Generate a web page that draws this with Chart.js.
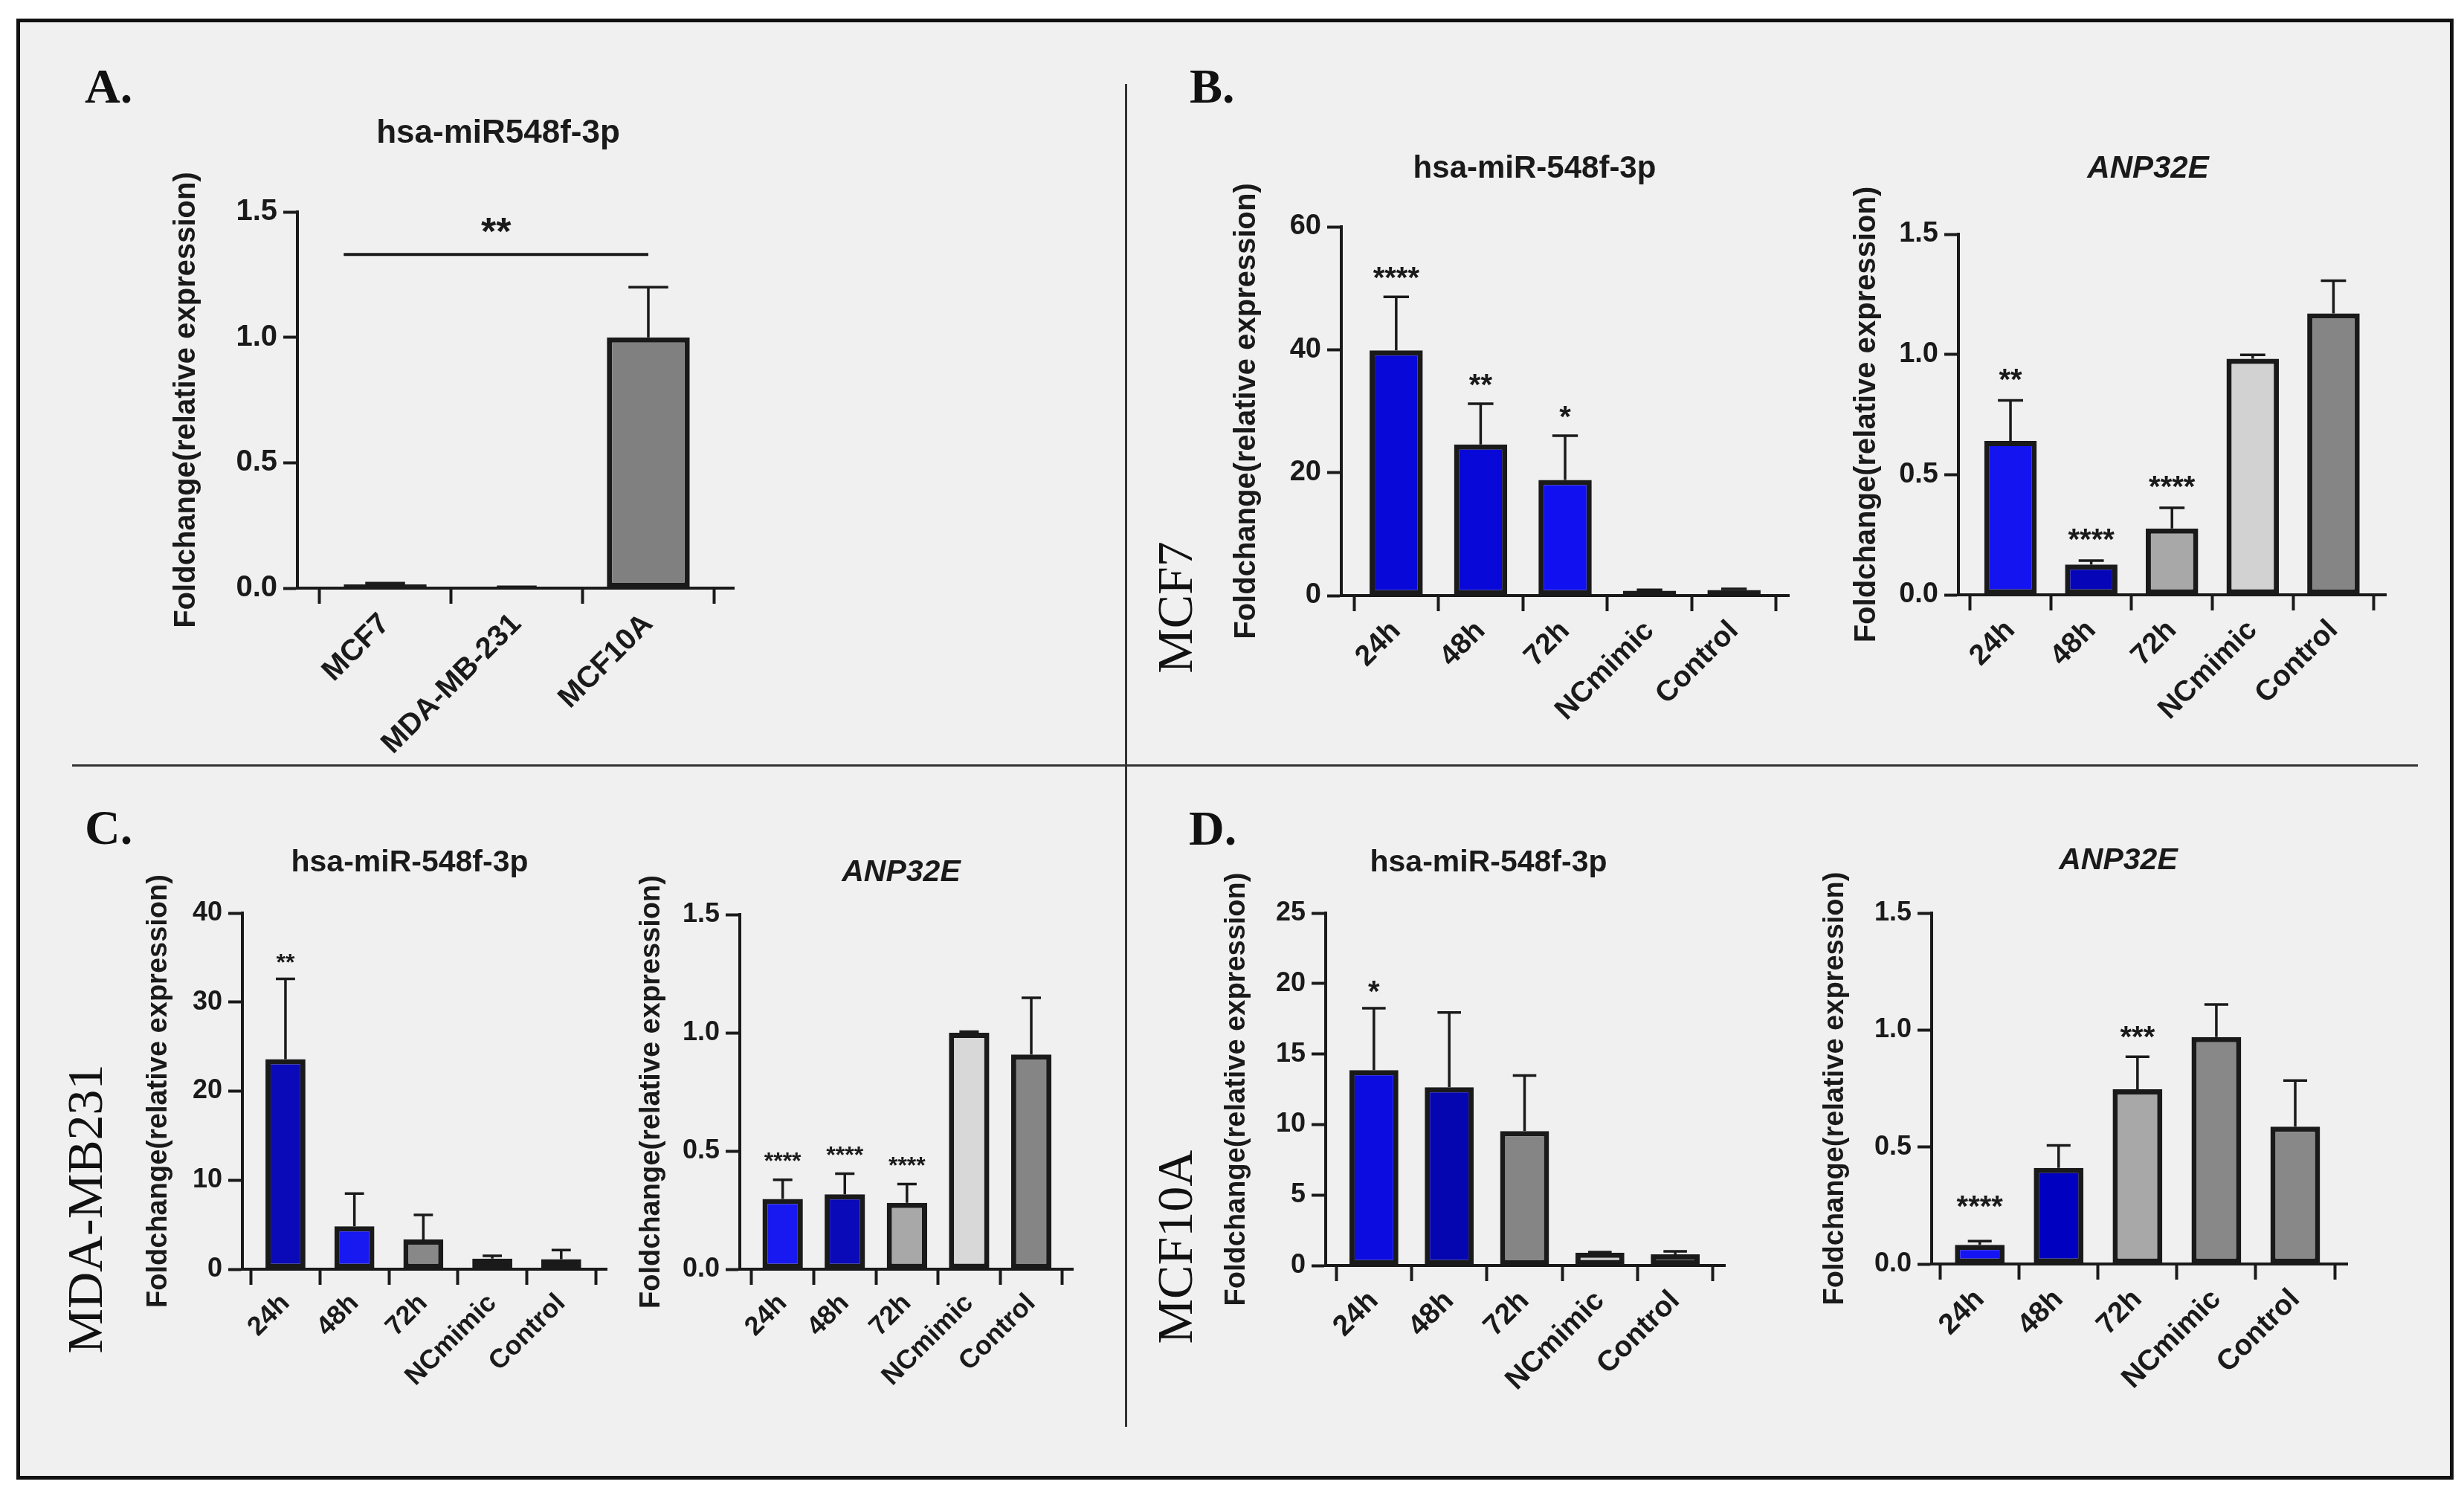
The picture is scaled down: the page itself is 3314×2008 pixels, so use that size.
<!DOCTYPE html>
<html>
<head>
<meta charset="utf-8">
<script src="https://cdn.jsdelivr.net/npm/chart.js@4.4.0/dist/chart.umd.min.js"></script>
<style>
  html, body { margin: 0; padding: 0; background: #fff; }
  body { width: 3314px; height: 2008px; position: relative; overflow: hidden; }
  #frame { position: absolute; left: 22px; top: 25px; width: 3278px; height: 1965px;
           box-sizing: border-box; border: 5px solid #111; background: #f0f0f0; }
  .vline { position: absolute; left: 1513px; top: 113px; width: 3px; height: 1806px; background: #333; }
  .hline { position: absolute; left: 97px; top: 1028px; width: 3155px; height: 3px; background: #333; }
  .plabel { position: absolute; font: bold 66px 'Liberation Serif', 'Times New Roman', serif;
            line-height: 1; color: #111; }
  .rlabel { position: absolute; font: 68px 'Liberation Serif', 'Times New Roman', serif; line-height: 1;
            color: #111; white-space: nowrap; transform: translate(-50%, -50%) rotate(-90deg); }
  canvas { position: absolute; }
</style>
</head>
<body>
<div id="frame"></div>
<div class="vline"></div>
<div class="hline"></div>
<div class="plabel" style="left:114px;top:83px">A.</div>
<div class="plabel" style="left:1600px;top:83px">B.</div>
<div class="plabel" style="left:114px;top:1080px">C.</div>
<div class="plabel" style="left:1599px;top:1081px">D.</div>
<div class="rlabel" style="left:1580px;top:817px">MCF7</div>
<div class="rlabel" style="left:114px;top:1626px">MDA-MB231</div>
<div class="rlabel" style="left:1580px;top:1677px">MCF10A</div>

<script>
// ---- data ----
const cellLines = ['MCF7', 'MDA-MB-231', 'MCF10A'];
const miRBaseline = [0.015, 0.004, 1.0];
const miRBaselineErr = [0.02, 0.005, 1.2];

const treatments = ['24h', '48h', '72h', 'NCmimic', 'Control'];

const miRMCF7 = [39.9, 24.6, 18.8, 0.8, 0.9];
const miRMCF7Err = [48.6, 31.2, 26.0, 0.95, 1.1];
const miRMCF7Stars = ['****', '**', '*', '', ''];
const anpMCF7 = [0.64, 0.126, 0.276, 0.982, 1.171];
const anpMCF7Err = [0.809, 0.142, 0.362, 0.998, 1.307];
const anpMCF7Stars = ['**', '****', '****', '', ''];

const miRMDA = [23.6, 4.83, 3.33, 1.18, 1.13];
const miRMDAErr = [32.6, 8.5, 6.1, 1.5, 2.15];
const miRMDAStars = ['**', '', '', '', ''];
const anpMDA = [0.297, 0.317, 0.281, 1.0, 0.908];
const anpMDAErr = [0.378, 0.404, 0.36, 1.005, 1.148];
const anpMDAStars = ['****', '****', '****', '', ''];

const miRMCF10A = [13.86, 12.65, 9.53, 0.91, 0.79];
const miRMCF10AErr = [18.25, 17.95, 13.47, 0.95, 1.0];
const miRMCF10AStars = ['*', '', '', '', ''];
const anpMCF10A = [0.082, 0.411, 0.747, 0.970, 0.587];
const anpMCF10AErr = [0.098, 0.507, 0.886, 1.109, 0.784];
const anpMCF10AStars = ['****', '', '***', '', ''];

const FONT = "'Liberation Sans', Arial, Helvetica, sans-serif";
const INK = '#1a1a1a';
const Y_TITLE = 'Foldchange(relative expression)';

// error bars, stars, bracket and panel title
const extras = {
  id: 'extras',
  afterDatasetsDraw(chart, args, o) {
    const ctx = chart.ctx;
    const y = chart.scales.y;
    const bars = chart.getDatasetMeta(0).data;
    ctx.save();
    ctx.strokeStyle = INK;
    ctx.fillStyle = INK;
    ctx.lineWidth = 3.5;
    bars.forEach((bar, i) => {
      const top = y.getPixelForValue(o.err[i]);
      const half = bar.width * 0.24;
      ctx.beginPath();
      ctx.moveTo(bar.x, bar.y);
      ctx.lineTo(bar.x, top);
      ctx.moveTo(bar.x - half, top);
      ctx.lineTo(bar.x + half, top);
      ctx.stroke();
      const s = o.stars ? o.stars[i] : '';
      if (s) {
        const gap = Array.isArray(o.starGap) ? o.starGap[i] : o.starGap;
        ctx.font = `bold ${o.starSize}px ${FONT}`;
        ctx.textAlign = 'center';
        ctx.textBaseline = 'alphabetic';
        ctx.fillText(s, bar.x, top - gap + 0.58 * o.starSize);
      }
    });
    if (o.bracket) {
      const b = o.bracket;
      const a = bars[b.from], c = bars[b.to];
      const ly = y.getPixelForValue(b.value);
      const x1 = a.x - a.width / 2, x2 = c.x;
      ctx.lineWidth = 4;
      ctx.beginPath();
      ctx.moveTo(x1, ly);
      ctx.lineTo(x2, ly);
      ctx.stroke();
      ctx.font = `bold ${o.starSize}px ${FONT}`;
      ctx.textAlign = 'center';
      ctx.textBaseline = 'alphabetic';
      ctx.fillText(b.text, (x1 + x2) / 2, ly - 44 + 0.58 * o.starSize);
    }
    ctx.font = `${o.italic ? 'italic ' : ''}bold ${o.titleSize}px ${FONT}`;
    ctx.textAlign = 'center';
    ctx.textBaseline = 'middle';
    ctx.fillText(o.title, o.titleX, o.titleY);
    ctx.restore();
  }
};

function panel(p) {
  const left = Math.round(p.yTitleX - 0.6 * p.yTitleSize);
  const top = Math.round(p.titleY - 45);
  const padRight = 40;
  const width = p.axisRight + padRight - left;
  const height = p.y0 + p.xh - top;
  const canvas = document.createElement('canvas');
  canvas.width = width;
  canvas.height = height;
  canvas.style.left = left + 'px';
  canvas.style.top = top + 'px';
  canvas.style.width = width + 'px';
  canvas.style.height = height + 'px';
  document.body.appendChild(canvas);

  const tickStyle = { drawOnChartArea: false, drawTicks: true, tickWidth: 4, tickColor: INK };
  const border = { display: true, color: INK, width: 4 };

  new Chart(canvas, {
    type: 'bar',
    data: {
      datasets: [{
        data: p.values.map((v, i) => ({ x: i, y: v })),
        backgroundColor: p.colors,
        borderColor: INK,
        borderWidth: 7,
        borderSkipped: false,
        barPercentage: p.barFrac,
        categoryPercentage: 1
      }]
    },
    options: {
      responsive: false,
      animation: false,
      events: [],
      devicePixelRatio: 1,
      layout: { padding: { left: 0, top: p.yTop - top, right: padRight, bottom: 0 } },
      plugins: {
        legend: { display: false },
        tooltip: { enabled: false },
        extras: {
          err: p.err, stars: p.stars, starSize: p.starSize, starGap: p.starGap,
          bracket: p.bracket, title: p.title, italic: p.italic, titleSize: p.titleSize,
          titleX: p.titleX - left, titleY: p.titleY - top
        }
      },
      scales: {
        x: {
          type: 'linear',
          min: p.xMin,
          max: p.xMax,
          offset: false,
          afterFit: s => { s.height = p.xh; },
          grid: Object.assign({ tickLength: 21 }, tickStyle),
          border: border,
          ticks: {
            stepSize: 1, includeBounds: false, autoSkip: false,
            minRotation: 45, maxRotation: 45, padding: 4, color: INK,
            font: { family: FONT, weight: 'bold', size: p.xLabelSize },
            callback: v => p.labels[v] ?? ''
          }
        },
        y: {
          min: 0,
          max: p.yMax,
          afterFit: s => { s.width = p.axisX - left; },
          grid: Object.assign({ tickLength: 19 }, tickStyle),
          border: border,
          ticks: {
            stepSize: p.yStep, padding: 8, color: INK,
            font: { family: FONT, weight: 'bold', size: p.tickSize },
            callback: v => v.toFixed(p.dec)
          },
          title: {
            display: true, text: Y_TITLE, padding: 0, color: INK,
            font: { family: FONT, weight: 'bold', size: p.yTitleSize }
          }
        }
      }
    },
    plugins: [extras]
  });
}

// A. baseline expression
panel({
  title: 'hsa-miR548f-3p', titleX: 670, titleY: 180, titleSize: 44,
  labels: cellLines, values: miRBaseline, err: miRBaselineErr,
  bracket: { from: 0, to: 2, value: 1.33, text: '**' },
  colors: ['#5a5a5a', '#5a5a5a', '#808080'],
  axisX: 400, axisRight: 987, yTop: 285, y0: 791, xh: 280,
  yTitleX: 251, yTitleSize: 40, tickSize: 40, xLabelSize: 40,
  xMin: -0.667, xMax: 2.65, barFrac: 0.63, yMax: 1.5, yStep: 0.5, dec: 1,
  starSize: 52, starGap: 36
});

// B. MCF7
panel({
  title: 'hsa-miR-548f-3p', titleX: 2064, titleY: 227, titleSize: 42,
  labels: treatments, values: miRMCF7, err: miRMCF7Err, stars: miRMCF7Stars,
  colors: ['#0808d8', '#0808d8', '#1010f0', '#888888', '#888888'],
  axisX: 1804, axisRight: 2406, yTop: 305, y0: 801, xh: 210,
  yTitleX: 1677, yTitleSize: 40, tickSize: 38, xLabelSize: 39,
  xMin: -0.65, xMax: 4.65, barFrac: 0.63, yMax: 60, yStep: 20, dec: 0,
  starSize: 40, starGap: 35
});
panel({
  title: 'ANP32E', italic: true, titleX: 2889, titleY: 227, titleSize: 42,
  labels: treatments, values: anpMCF7, err: anpMCF7Err, stars: anpMCF7Stars,
  colors: ['#1414f0', '#0606b8', '#a8a8a8', '#d2d2d2', '#858585'],
  axisX: 2634, axisRight: 3209, yTop: 315, y0: 800, xh: 210,
  yTitleX: 2511, yTitleSize: 40, tickSize: 38, xLabelSize: 39,
  xMin: -0.645, xMax: 4.65, barFrac: 0.65, yMax: 1.5, yStep: 0.5, dec: 1,
  starSize: 40, starGap: 38
});

// C. MDA-MB231
panel({
  title: 'hsa-miR-548f-3p', titleX: 551, titleY: 1161, titleSize: 41,
  labels: treatments, values: miRMDA, err: miRMDAErr, stars: miRMDAStars,
  colors: ['#0a0ab8', '#1818f0', '#888888', '#8c8c8c', '#858585'],
  axisX: 326, axisRight: 816, yTop: 1228, y0: 1707, xh: 200,
  yTitleX: 214, yTitleSize: 38, tickSize: 36, xLabelSize: 36,
  xMin: -0.625, xMax: 4.66, barFrac: 0.58, yMax: 40, yStep: 10, dec: 0,
  starSize: 32, starGap: 30
});
panel({
  title: 'ANP32E', italic: true, titleX: 1212, titleY: 1174, titleSize: 41,
  labels: treatments, values: anpMDA, err: anpMDAErr, stars: anpMDAStars,
  colors: ['#1818f0', '#0a0ab8', '#a8a8a8', '#d8d8d8', '#858585'],
  axisX: 995, axisRight: 1443, yTop: 1230, y0: 1707, xh: 200,
  yTitleX: 877, yTitleSize: 38, tickSize: 36, xLabelSize: 36,
  xMin: -0.69, xMax: 4.67, barFrac: 0.65, yMax: 1.5, yStep: 0.5, dec: 1,
  starSize: 32, starGap: 33
});

// D. MCF10A
panel({
  title: 'hsa-miR-548f-3p', titleX: 2002, titleY: 1161, titleSize: 41,
  labels: treatments, values: miRMCF10A, err: miRMCF10AErr, stars: miRMCF10AStars,
  colors: ['#0c0ce0', '#0606b0', '#858585', '#d0d0d0', '#858585'],
  axisX: 1783, axisRight: 2320, yTop: 1228, y0: 1702, xh: 210,
  yTitleX: 1664, yTitleSize: 38, tickSize: 36, xLabelSize: 39,
  xMin: -0.64, xMax: 4.66, barFrac: 0.65, yMax: 25, yStep: 5, dec: 0,
  starSize: 40, starGap: 32
});
panel({
  title: 'ANP32E', italic: true, titleX: 2849, titleY: 1158, titleSize: 41,
  labels: treatments, values: anpMCF10A, err: anpMCF10AErr, stars: anpMCF10AStars,
  colors: ['#1414f5', '#0000c0', '#a8a8a8', '#888888', '#888888'],
  axisX: 2598, axisRight: 3157, yTop: 1228, y0: 1700, xh: 210,
  yTitleX: 2469, yTitleSize: 38, tickSize: 36, xLabelSize: 39,
  xMin: -0.61, xMax: 4.66, barFrac: 0.63, yMax: 1.5, yStep: 0.5, dec: 1,
  starSize: 40, starGap: [56, 36, 36, 36, 36]
});
</script>
</body>
</html>
